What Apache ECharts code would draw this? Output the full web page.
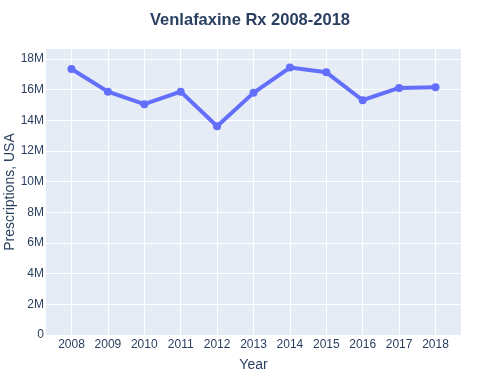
<!DOCTYPE html>
<html><head><meta charset="utf-8">
<script src="https://cdn.jsdelivr.net/npm/echarts@6/dist/echarts.min.js"></script>
<style>html,body{margin:0;padding:0;background:#fff}#c{width:500px;height:375px}</style>
</head><body><div id="c"></div>
<script>
const years = ['2008','2009','2010','2011','2012','2013','2014','2015','2016','2017','2018'];
const prescriptions = [17350000, 15870000, 15050000, 15870000, 13610000, 15790000, 17440000, 17130000, 15310000, 16110000, 16150000];
const yTicks = [0, 2e6, 4e6, 6e6, 8e6, 10e6, 12e6, 14e6, 16e6, 18e6];
const xTickIdx = years.map((y, i) => i);

const chart = echarts.init(document.getElementById('c'));
const font = 'Liberation Sans, Arial, sans-serif';
chart.setOption({
  animation: false,
  title: {
    text: 'Venlafaxine Rx 2008-2018', left: 'center', top: 7,
    textStyle: {fontFamily: font, fontSize: 16.5, fontWeight: 'bold', color: '#2a3f5f'}
  },
  grid: {left: 46, right: 39, top: 49, bottom: 40, containLabel: false, outerBoundsMode: 'none',
         show: true, backgroundColor: '#e5ecf6', borderWidth: 0},
  xAxis: {
    type: 'value', min: -0.7, max: 10.7,
    name: 'Year', nameLocation: 'middle', nameGap: 23, nameMoveOverlap: false,
    nameTextStyle: {fontFamily: font, fontSize: 14, color: '#2a3f5f'},
    axisLine: {show: false},
    axisTick: {show: false, customValues: xTickIdx},
    axisLabel: {customValues: xTickIdx, formatter: v => years[Math.round(v)] || '', fontFamily: font, fontSize: 12, color: '#2a3f5f', margin: 4},
    splitLine: {show: true, lineStyle: {color: '#ffffff', width: 1}}
  },
  yAxis: {
    type: 'value', min: 0, max: 18650000,
    name: 'Prescriptions, USA', nameLocation: 'middle', nameGap: 29, nameRotate: 90, nameMoveOverlap: false,
    nameTextStyle: {fontFamily: font, fontSize: 14, color: '#2a3f5f'},
    axisLine: {show: false}, axisTick: {show: false, customValues: yTicks},
    axisLabel: {customValues: yTicks, formatter: v => v === 0 ? '0' : (v / 1e6) + 'M', fontFamily: font, fontSize: 12, color: '#2a3f5f', margin: 2},
    splitLine: {show: true, lineStyle: {color: '#ffffff', width: 1}}
  },
  series: [{
    type: 'line',
    data: prescriptions.map((v, i) => [i, v]),
    symbol: 'circle', symbolSize: 8,
    lineStyle: {color: '#636efa', width: 4},
    itemStyle: {color: '#636efa'}
  }]
});
</script></body></html>
